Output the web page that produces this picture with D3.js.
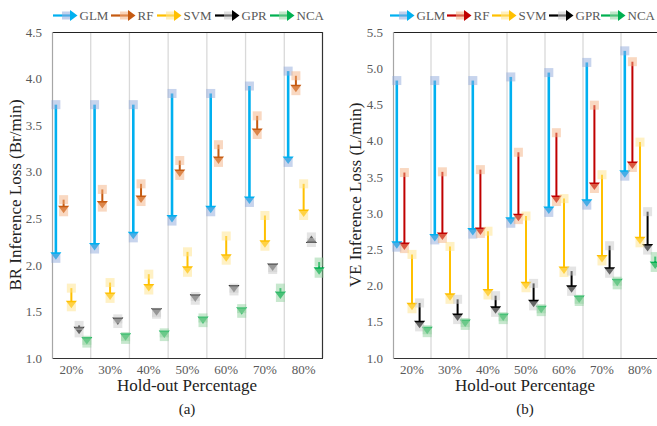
<!DOCTYPE html>
<html>
<head>
<meta charset="utf-8">
<script src="https://cdn.jsdelivr.net/npm/d3@7"></script>
<style>
  body { margin: 0; background: #fff; }
  svg text { font-family: "Liberation Serif", "Times New Roman", Times, "DejaVu Serif", serif !important; }
</style>
</head>
<body>
<div id="chart"></div>
<script>
// x categories & series names
var categories = ['20%', '30%', '40%', '50%', '60%', '70%', '80%'];
var models = ['GLM', 'RF', 'SVM', 'GPR', 'NCA'];

// panel (a) BR inference loss: [from, to] per hold-out percentage
var brGLM = [[3.72, 2.07], [3.72, 2.17], [3.72, 2.29], [3.84, 2.47], [3.84, 2.57], [3.92, 2.67], [4.08, 3.10]];
var brRF  = [[2.70, 2.57], [2.81, 2.62], [2.87, 2.68], [3.12, 2.96], [3.29, 3.10], [3.60, 3.40], [4.03, 3.87]];
var brSVM = [[1.75, 1.55], [1.81, 1.64], [1.90, 1.73], [2.14, 1.92], [2.31, 2.05], [2.53, 2.20], [2.87, 2.53]];
var brGPR = [[1.35, 1.27], [1.42, 1.37], [1.49, 1.47], [1.66, 1.62], [1.75, 1.72], [1.97, 1.95], [2.24, 2.30]];
var brNCA = [[1.19, 1.16], [1.23, 1.20], [1.27, 1.23], [1.43, 1.38], [1.53, 1.48], [1.75, 1.65], [2.03, 1.91]];

// panel (b) VE inference loss
var veGLM = [[4.83, 2.53], [4.83, 2.63], [4.83, 2.71], [4.88, 2.86], [4.94, 3.01], [5.08, 3.11], [5.24, 3.51]];
var veRF  = [[3.56, 2.51], [3.57, 2.65], [3.60, 2.72], [3.84, 2.91], [4.11, 3.16], [4.49, 3.34], [5.09, 3.63]];
var veSVM = [[2.43, 1.68], [2.54, 1.81], [2.75, 1.87], [2.96, 1.97], [3.20, 2.18], [3.53, 2.34], [3.98, 2.59]];
var veGPR = [[1.76, 1.43], [1.81, 1.53], [1.86, 1.63], [2.03, 1.72], [2.20, 1.92], [2.55, 2.17], [3.02, 2.49]];
var veNCA = [[1.39, 1.35], [1.49, 1.45], [1.57, 1.53], [1.68, 1.64], [1.81, 1.78], [2.06, 2.01], [2.40, 2.25]];

var brTicks = [1.0, 1.5, 2.0, 2.5, 3.0, 3.5, 4.0, 4.5];
var veTicks = [1.0, 1.5, 2.0, 2.5, 3.0, 3.5, 4.0, 4.5, 5.0, 5.5];

var lightColors = { GLM: '#8FAADC', RF: '#F4B183', SVM: '#FFE38A', GPR: '#C9C9C9', NCA: '#8FD19E' };
var serif = '"Liberation Serif", "Times New Roman", Times, serif';

var svg = d3.select('#chart')
  .append('svg')
  .attr('width', 657)
  .attr('height', 426)
  .attr('font-family', serif);

function drawPanel(opt) {
  var top = 32, bottom = 358;
  var x = d3.scaleBand().domain(categories).range([opt.left, opt.right]);
  var sub = d3.scaleBand().domain(models).range([0, x.bandwidth()]);
  var y = d3.scaleLinear().domain([1, opt.max]).range([bottom, top]);
  var g = svg.append('g');

  // gridlines between categories
  g.selectAll('.grid')
    .data(categories.slice(1))
    .enter().append('line')
    .attr('x1', function(d) { return x(d); })
    .attr('x2', function(d) { return x(d); })
    .attr('y1', top).attr('y2', bottom)
    .attr('stroke', '#D9D9D9').attr('stroke-width', 1.3);

  // frame
  g.append('line').attr('x1', opt.left).attr('x2', opt.right).attr('y1', top + 0.5).attr('y2', top + 0.5)
    .attr('stroke', '#222').attr('stroke-width', 1.2);
  g.append('line').attr('x1', opt.right - 0.5).attr('x2', opt.right - 0.5).attr('y1', top).attr('y2', bottom)
    .attr('stroke', '#333').attr('stroke-width', 1.2);
  g.append('line').attr('x1', opt.left).attr('x2', opt.right).attr('y1', bottom + 0.5).attr('y2', bottom + 0.5)
    .attr('stroke', '#333').attr('stroke-width', 1.2);
  g.append('line').attr('x1', opt.left + 0.5).attr('x2', opt.left + 0.5).attr('y1', top).attr('y2', bottom + 1)
    .attr('stroke', '#A6A6A6').attr('stroke-width', 1.2);

  // y axis
  var yAxis = g.append('g')
    .attr('transform', 'translate(' + (opt.left - 10) + ',0)')
    .call(d3.axisLeft(y).tickValues(opt.ticks).tickFormat(d3.format('.1f')).tickSize(0).tickPadding(0));
  yAxis.attr('font-family', serif);
  yAxis.select('.domain').remove();
  yAxis.selectAll('text')
    .attr('fill', '#595959')
    .style('font-size', '13px');

  // x labels
  g.selectAll('.xlab')
    .data(categories)
    .enter().append('text')
    .attr('x', function(d) { return x(d) + x.bandwidth() / 2; })
    .attr('y', 374)
    .attr('text-anchor', 'middle')
    .attr('fill', '#595959')
    .style('font-size', '13px')
    .text(function(d) { return d; });

  // arrows
  var marks = [];
  models.forEach(function(m) {
    opt.series[m].forEach(function(v, i) {
      marks.push({ model: m, cat: categories[i], from: v[0], to: v[1] });
    });
  });

  marks.forEach(function(d) {
    var cx = x(d.cat) + sub(d.model) + sub.bandwidth() / 2;
    var y0 = y(d.from), y1 = y(d.to);
    var dir = y1 >= y0 ? 1 : -1;
    var col = opt.colors[d.model];
    var w = d.model === 'GLM' ? 2.6 : 2;
    g.append('line')
      .attr('x1', cx).attr('x2', cx)
      .attr('y1', y0).attr('y2', y1 - dir * 5)
      .attr('stroke', col).attr('stroke-width', w);
    var tip = y1 + dir * 1.5, base = y1 - dir * 6;
    g.append('path')
      .attr('d', 'M' + (cx - 5.5) + ',' + base + 'L' + (cx + 5.5) + ',' + base + 'L' + cx + ',' + tip + 'Z')
      .attr('fill', col);
  });

  // translucent squares on top
  marks.forEach(function(d) {
    var cx = x(d.cat) + sub(d.model) + sub.bandwidth() / 2;
    [d.from, d.to].forEach(function(v) {
      g.append('rect')
        .attr('x', cx - 4.5).attr('y', y(v) - 4.5)
        .attr('width', 9).attr('height', 9)
        .attr('fill', lightColors[d.model])
        .attr('opacity', 0.5);
    });
  });

  // legend
  models.forEach(function(m, i) {
    var lx = opt.legendX[i], ly = 15.5;
    var col = opt.colors[m];
    g.append('line').attr('x1', lx).attr('x2', lx + 18).attr('y1', ly).attr('y2', ly)
      .attr('stroke', col).attr('stroke-width', 2.2);
    g.append('path')
      .attr('d', 'M' + (lx + 17) + ',' + (ly - 5.5) + 'L' + (lx + 17) + ',' + (ly + 5.5) + 'L' + (lx + 24.5) + ',' + ly + 'Z')
      .attr('fill', col);
    g.append('rect').attr('x', lx + 9).attr('y', ly - 4).attr('width', 8).attr('height', 8)
      .attr('fill', lightColors[m]).attr('opacity', 0.55);
    g.append('text')
      .attr('x', lx + 26.5).attr('y', ly + 4.5)
      .attr('fill', '#595959')
      .style('font-size', '13px')
      .text(m);
  });

  // titles
  g.append('text')
    .attr('x', opt.titleMid).attr('y', 391)
    .attr('text-anchor', 'middle')
    .attr('fill', '#222')
    .style('font-size', '17px')
    .text('Hold-out Percentage');
  g.append('text')
    .attr('x', opt.titleMid).attr('y', 414)
    .attr('text-anchor', 'middle')
    .attr('fill', '#222')
    .style('font-size', '15px')
    .text(opt.tag);
  g.append('text')
    .attr('transform', 'translate(' + opt.yTitleX + ',' + ((top + bottom) / 2) + ') rotate(-90)')
    .attr('text-anchor', 'middle')
    .attr('fill', '#222')
    .style('font-size', '17px')
    .text(opt.yTitle);
}

drawPanel({
  left: 52, right: 323, max: 4.5, ticks: brTicks,
  series: { GLM: brGLM, RF: brRF, SVM: brSVM, GPR: brGPR, NCA: brNCA },
  colors: { GLM: '#00B0F0', RF: '#C55A11', SVM: '#FFC000', GPR: '#000000', NCA: '#00B050' },
  legendX: [53, 111, 157, 215, 270],
  titleMid: 187, tag: '(a)', yTitleX: 21, yTitle: 'BR Inference Loss (Br/min)'
});

drawPanel({
  left: 393, right: 659, max: 5.5, ticks: veTicks,
  series: { GLM: veGLM, RF: veRF, SVM: veSVM, GPR: veGPR, NCA: veNCA },
  colors: { GLM: '#00B0F0', RF: '#C00000', SVM: '#FFC000', GPR: '#000000', NCA: '#00B050' },
  legendX: [390, 447, 492, 549, 601],
  titleMid: 525, tag: '(b)', yTitleX: 361, yTitle: 'VE Inference Loss (L/min)'
});
</script>
</body>
</html>
